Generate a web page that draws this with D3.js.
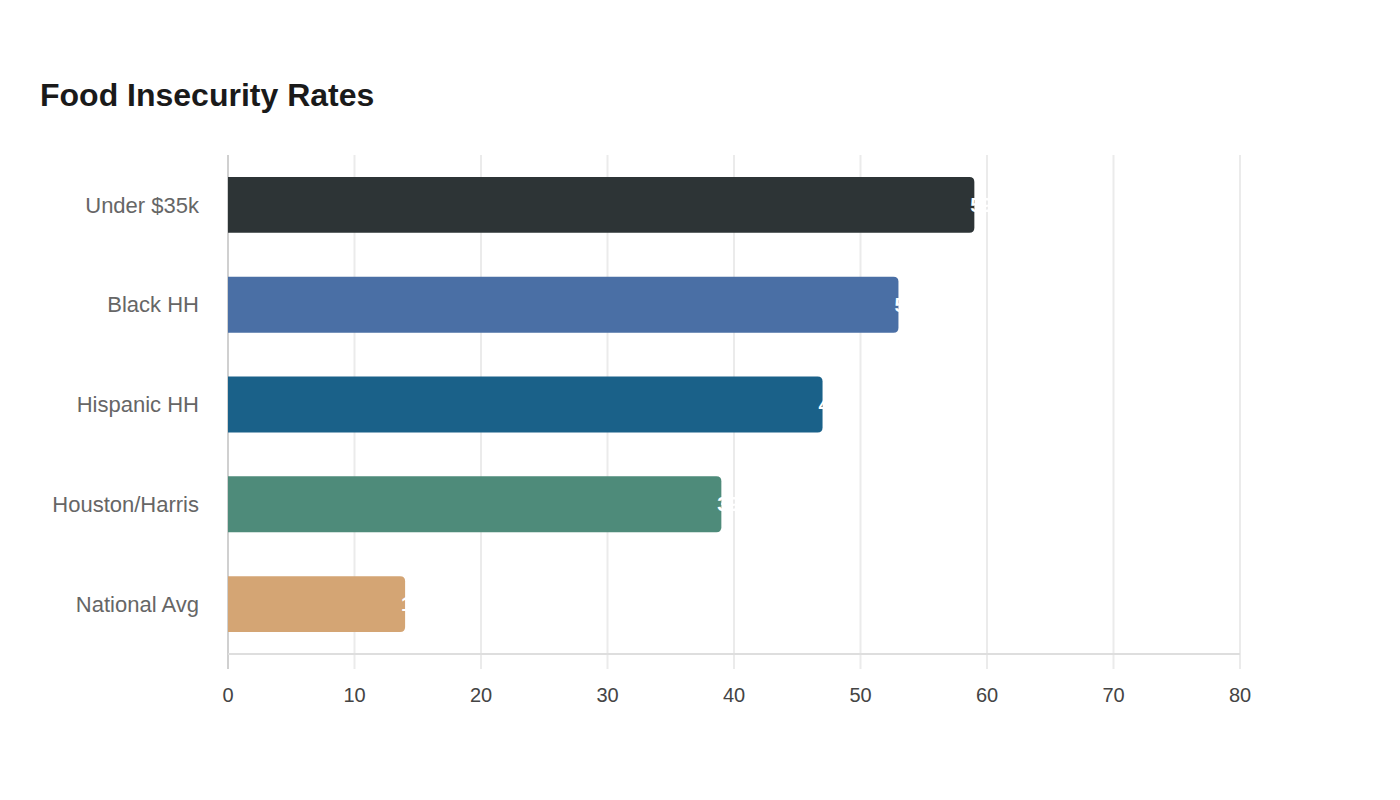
<!DOCTYPE html>
<html>
<head>
<meta charset="utf-8">
<script src="https://cdn.jsdelivr.net/npm/d3@7"></script>
<style>
  body { margin: 0; background: #fff; font-family: "Liberation Sans", Arial, sans-serif; }
</style>
</head>
<body>
<script>
// Chart data
const categories = ["Under $35k", "Black HH", "Hispanic HH", "Houston/Harris", "National Avg"];
const rates = [59, 53, 47, 39, 14];
const barColors = ["#2d3436", "#4a6fa5", "#1a6189", "#4e8b7a", "#d4a574"];
const tickValues = [0, 10, 20, 30, 40, 50, 60, 70, 80];

const width = 1400, height = 800;
const margin = {top: 155, right: 160, bottom: 146, left: 228};

let svg = d3.select("body").append("svg")
    .attr("width", width)
    .attr("height", height);

// Title
svg.append("text")
    .attr("x", 40)
    .attr("y", 106)
    .style("font-size", "32px")
    .style("font-weight", "bold")
    .style("fill", "#1a1a1a")
    .text("Food Insecurity Rates");

let xScale = d3.scaleLinear().domain([0, 80]).range([margin.left, width - margin.right]);
let yScale = d3.scaleBand().domain(categories)
    .range([margin.top, height - margin.bottom])
    .paddingInner(0.44).paddingOuter(0.22);

let plotBottom = height - margin.bottom;

// Vertical grid lines
svg.append("g").selectAll("line")
    .data(tickValues.slice(1))
    .join("line")
    .attr("x1", d => xScale(d)).attr("x2", d => xScale(d))
    .attr("y1", margin.top).attr("y2", plotBottom + 15)
    .attr("stroke", "#ebebeb")
    .attr("stroke-width", 2);

// Left axis line
svg.append("line")
    .attr("x1", xScale(0)).attr("x2", xScale(0))
    .attr("y1", margin.top).attr("y2", plotBottom + 15)
    .attr("stroke", "#d0d0d0")
    .attr("stroke-width", 2);

// Bottom axis line
svg.append("line")
    .attr("x1", xScale(0)).attr("x2", xScale(80))
    .attr("y1", plotBottom).attr("y2", plotBottom)
    .attr("stroke", "#dedede")
    .attr("stroke-width", 2);

// X tick labels
svg.append("g").selectAll("text")
    .data(tickValues)
    .join("text")
    .attr("x", d => xScale(d))
    .attr("y", 702)
    .attr("text-anchor", "middle")
    .style("font-size", "20px")
    .style("fill", "#444")
    .text(d => d);

// Category labels
svg.append("g").selectAll("text")
    .data(categories)
    .join("text")
    .attr("x", 199)
    .attr("y", d => yScale(d) + yScale.bandwidth() / 2)
    .attr("dy", "0.35em")
    .attr("text-anchor", "end")
    .style("font-size", "22px")
    .style("fill", "#666")
    .text(d => d);

// Bars: square left edge, rounded right corners
function barPath(x0, x1, y, h, r) {
  return "M" + x0 + "," + y +
    "H" + (x1 - r) +
    "Q" + x1 + "," + y + " " + x1 + "," + (y + r) +
    "V" + (y + h - r) +
    "Q" + x1 + "," + (y + h) + " " + (x1 - r) + "," + (y + h) +
    "H" + x0 + "Z";
}

svg.append("g").selectAll("path")
    .data(categories)
    .join("path")
    .attr("d", (d, i) => barPath(xScale(0), xScale(rates[i]), yScale(d), yScale.bandwidth(), 5))
    .attr("fill", (d, i) => barColors[i]);

// Value labels (white, starting at bar end)
svg.append("g").selectAll("text")
    .data(categories)
    .join("text")
    .attr("x", (d, i) => xScale(rates[i]) - 4)
    .attr("y", d => yScale(d) + yScale.bandwidth() / 2)
    .attr("dy", "0.35em")
    .style("font-size", "20px")
    .style("font-weight", "bold")
    .style("fill", "#fff")
    .text((d, i) => rates[i]);
</script>
</body>
</html>
